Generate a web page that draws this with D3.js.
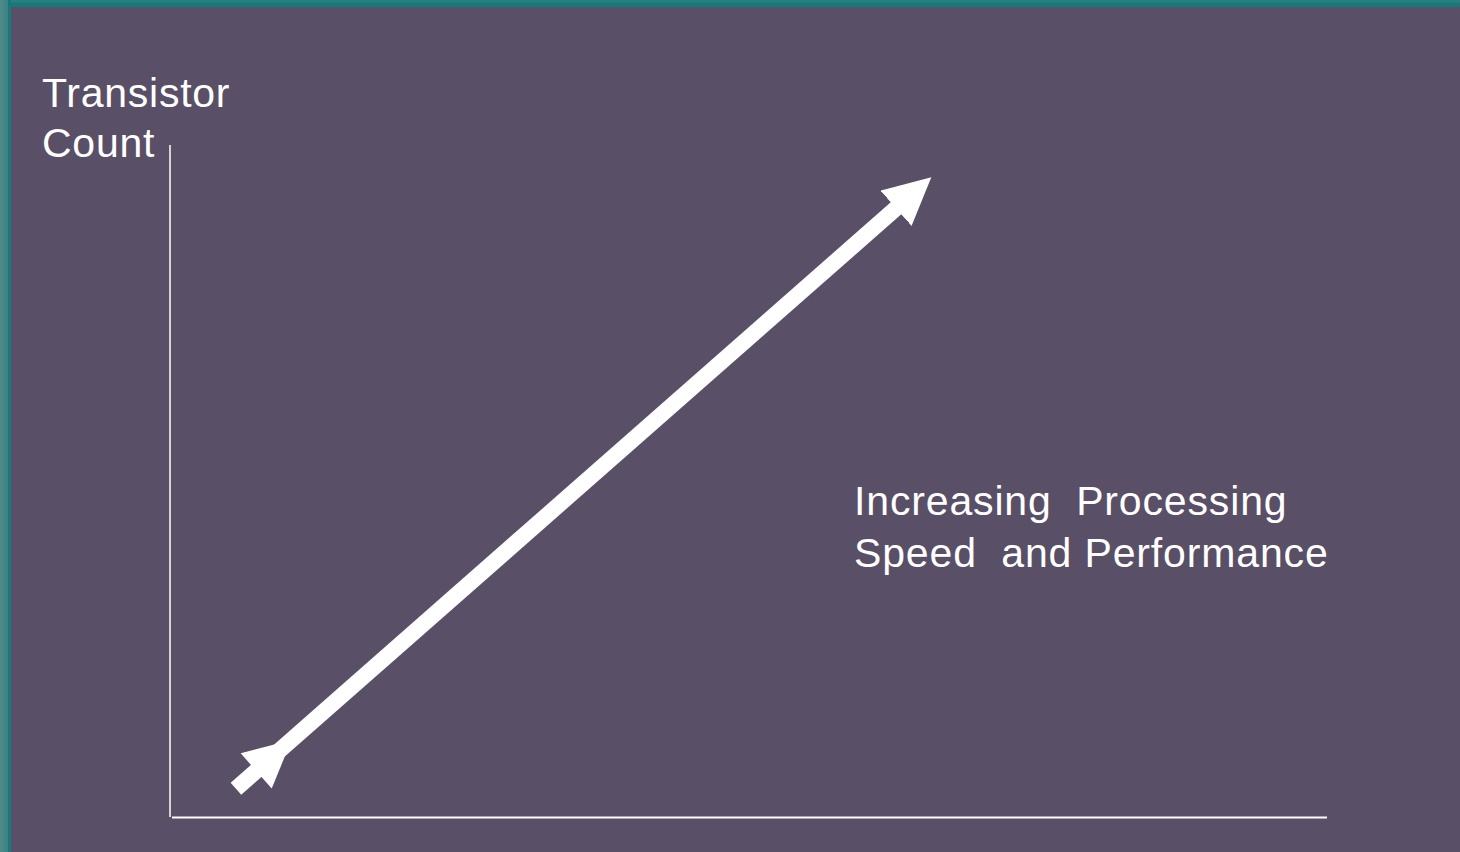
<!DOCTYPE html>
<html>
<head>
<meta charset="utf-8">
<script src="https://cdn.jsdelivr.net/npm/d3@7"></script>
<style>
html,body{margin:0;padding:0;background:#594f66;overflow:hidden;}
svg{display:block;}
text{font-family:"Liberation Sans",Arial,sans-serif;fill:#ffffff;white-space:pre;}
</style>
</head>
<body>
<svg id="chart" width="1460" height="852" xml:space="preserve"></svg>
<script>
// Conceptual chart data (data units 0..100 on both axes)
const xDomain = [0, 100];
const yDomain = [0, 100];
const yAxisTitle = ["Transistor", "Count"];
const trendLabel = ["Increasing  Processing", "Speed  and Performance"];
// arrow: tail and tip in data units
const trendX = [5.7, 65.8];
const trendY = [4.2, 95.2];

const W = 1460, H = 852;
const svg = d3.select("#chart");

// frame: teal borders
const defs = svg.append("defs");
const lg = defs.append("linearGradient").attr("id","leftEdge").attr("x1","0").attr("x2","1").attr("y1","0").attr("y2","0");
lg.append("stop").attr("offset","0").attr("stop-color","#528a88");
lg.append("stop").attr("offset","0.68").attr("stop-color","#3c8283");
lg.append("stop").attr("offset","0.72").attr("stop-color","#18797b");
lg.append("stop").attr("offset","1").attr("stop-color","#18797b");
const tg = defs.append("linearGradient").attr("id","topEdge").attr("x1","0").attr("x2","0").attr("y1","0").attr("y2","1");
tg.append("stop").attr("offset","0").attr("stop-color","#2f7f80");
tg.append("stop").attr("offset","0.45").attr("stop-color","#217c7e");
tg.append("stop").attr("offset","0.5").attr("stop-color","#18797b");
tg.append("stop").attr("offset","1").attr("stop-color","#18797b");

svg.append("rect").attr("x",0).attr("y",0).attr("width",W).attr("height",H).attr("fill","#594f66");
svg.append("rect").attr("x",0).attr("y",0).attr("width",W).attr("height",7).attr("fill","url(#topEdge)");
svg.append("rect").attr("x",0).attr("y",0).attr("width",11).attr("height",H).attr("fill","url(#leftEdge)");

const x = d3.scaleLinear().domain(xDomain).range([170, 1327]);
const y = d3.scaleLinear().domain(yDomain).range([817, 145]);

// axes as plain lines (no ticks)
const xAxis = d3.axisBottom(x).ticks(0).tickSize(0).tickSizeOuter(0);
const yAxis = d3.axisLeft(y).ticks(0).tickSize(0).tickSizeOuter(0);
const gx = svg.append("g").attr("transform", `translate(0,${y(0)})`).call(xAxis);
gx.select(".domain").attr("stroke","#ffffff").attr("stroke-width",2);
gx.select(".domain").attr("d", `M${x(0)+2},0.5H${x(100)}`);
const gy = svg.append("g").attr("transform", `translate(${x(0)},0)`).call(yAxis);
gy.select(".domain").attr("stroke","#ffffff").attr("stroke-width",1.5).attr("d", `M0,${y(0)}V${y(100)}`);

// arrow markers
const headLen = 47, headW = 47;
defs.append("marker").attr("id","headEnd")
  .attr("markerUnits","userSpaceOnUse")
  .attr("viewBox",`0 ${-headW/2} ${headLen} ${headW}`)
  .attr("markerWidth",headLen).attr("markerHeight",headW)
  .attr("refX",headLen - 22).attr("refY",0).attr("orient","auto")
  .append("path").attr("d",`M0,${-headW/2}L${headLen},0L0,${headW/2}Z`).attr("fill","#ffffff");
defs.append("marker").attr("id","headStart")
  .attr("markerUnits","userSpaceOnUse")
  .attr("viewBox",`-30 ${-headW/2} ${headLen+30} ${headW}`)
  .attr("markerWidth",headLen+30).attr("markerHeight",headW)
  .attr("refX",-27).attr("refY",0).attr("orient","auto")
  .append("path").attr("d",`M0,${-headW/2}L${headLen},0L0,${headW/2}Z`).attr("fill","#ffffff");

const pts = trendX.map((d,i)=>[x(d), y(trendY[i])]);
// shorten the shaft so it ends inside the end head
const dx = pts[1][0]-pts[0][0], dy = pts[1][1]-pts[0][1];
const L = Math.hypot(dx,dy);
const shaftEnd = [pts[1][0]-dx/L*22, pts[1][1]-dy/L*22];
svg.append("path")
  .attr("d", d3.line()([pts[0], shaftEnd]))
  .attr("stroke","#ffffff").attr("stroke-width",16).attr("fill","none")
  .attr("marker-start","url(#headStart)").attr("marker-end","url(#headEnd)");

// texts
const t1 = svg.append("text").attr("x",42).attr("font-size",41).attr("letter-spacing",0.75);
t1.selectAll("tspan").data(yAxisTitle).join("tspan")
  .attr("x",42).attr("y",(d,i)=>107+i*50).text(d=>d);
const t2 = svg.append("text").attr("font-size",41).attr("letter-spacing",0.85);
t2.selectAll("tspan").data(trendLabel).join("tspan")
  .attr("x",854).attr("y",(d,i)=>515+i*52).text(d=>d);
</script>
</body>
</html>
